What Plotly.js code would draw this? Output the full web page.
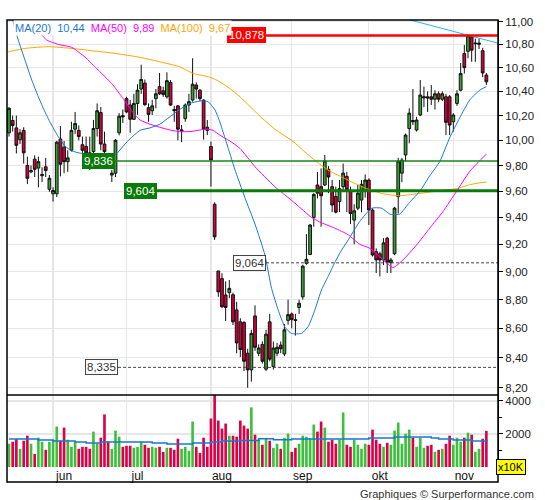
<!DOCTYPE html>
<html><head><meta charset="utf-8">
<script src="https://cdn.plot.ly/plotly-3.0.1.min.js"></script>
<style>html,body{margin:0;padding:0;background:#fff}#chart{width:545px;height:500px}</style>
</head><body><div id="chart"></div>
<script>
// ---------- DATA ----------
const openP = [10.06,10.16,10.10,10.005,10.08,9.80,9.75,9.85,9.78,9.72,
9.79,9.615,9.58,9.58,10.01,9.945,9.83,9.92,10.09,10.08,
9.965,9.95,9.90,9.91,10.095,10.225,9.97,9.88,9.725,9.74,
10.06,10.20,10.34,10.287,10.17,10.30,10.42,10.47,10.265,10.24,
10.34,10.44,10.405,10.355,10.475,10.25,10.28,10.075,10.175,10.287,
10.328,10.453,10.41,10.328,10.105,9.95,9.50,9.005,8.95,8.833,
8.85,8.835,8.728,8.645,8.64,8.43,8.318,8.686,8.43,8.49,
8.323,8.645,8.34,8.43,8.485,8.425,8.655,8.70,8.66,8.745,
8.82,9.06,9.125,9.40,9.648,9.635,9.648,9.77,9.635,9.56,
9.52,9.635,9.715,9.60,9.38,9.47,9.532,9.60,9.686,9.456,
9.145,9.13,9.085,9.245,9.065,9.13,9.558,9.74,9.883,10.095,
10.16,10.083,10.205,10.345,10.355,10.355,10.335,10.38,10.335,10.355,
10.355,10.15,10.30,10.41,10.72,10.74,10.865,10.805,10.80,10.745,
10.537];
const highP = [10.27,10.20,10.20,10.09,10.105,9.87,9.80,9.88,9.87,9.785,
9.86,9.725,9.63,9.995,10.115,9.995,9.92,10.15,10.23,10.12,
10.03,10.03,10.03,10.165,10.30,10.27,10.07,9.90,9.765,10.01,
10.22,10.25,10.355,10.328,10.38,10.46,10.625,10.50,10.30,10.33,
10.42,10.555,10.44,10.56,10.495,10.28,10.287,10.123,10.30,10.38,
10.68,10.475,10.42,10.335,10.164,9.99,9.515,9.005,8.988,8.93,
8.94,8.85,8.785,8.67,8.65,8.46,8.59,8.76,8.49,8.51,
8.59,8.70,8.51,8.50,8.51,8.63,8.80,8.71,8.70,8.80,
9.05,9.275,9.35,9.585,9.75,9.777,9.883,9.795,9.686,9.635,
9.686,9.815,9.75,9.635,9.50,9.648,9.686,9.73,9.70,9.47,
9.17,9.145,9.245,9.255,9.10,9.48,9.86,9.86,10.055,10.26,
10.42,10.19,10.495,10.44,10.40,10.453,10.41,10.40,10.40,10.38,
10.37,10.22,10.41,10.64,10.794,10.88,10.878,10.85,10.85,10.77,
10.555];
const lowP = [10.03,10.07,9.895,9.97,9.815,9.655,9.74,9.71,9.63,9.67,
9.71,9.595,9.52,9.555,9.715,9.74,9.75,9.91,10.05,10.00,
9.90,9.88,9.765,9.88,10.03,9.92,9.83,9.79,9.67,9.71,
10.04,10.14,10.22,10.06,10.165,10.205,10.38,10.28,10.15,10.205,
10.26,10.37,10.355,10.34,10.28,10.15,10.00,9.985,10.15,10.23,
10.315,10.34,10.32,10.005,10.042,9.635,9.232,8.82,8.74,8.65,
8.81,8.623,8.43,8.405,8.31,8.20,8.24,8.446,8.41,8.36,
8.31,8.375,8.32,8.41,8.43,8.41,8.625,8.60,8.55,8.70,
8.80,9.05,9.12,9.33,9.545,9.33,9.64,9.585,9.44,9.43,
9.44,9.61,9.44,9.35,9.20,9.456,9.44,9.55,9.343,9.11,
8.99,8.965,9.048,8.99,8.99,9.12,9.43,9.67,9.83,9.975,
10.123,10.07,10.195,10.27,10.23,10.287,10.25,10.31,10.32,10.042,
10.042,10.07,10.28,10.40,10.55,10.68,10.65,10.65,10.76,10.52,
10.453];
const closeP = [10.26,10.12,9.96,10.06,9.90,9.70,9.76,9.77,9.83,9.73,
9.76,9.70,9.605,9.985,9.81,9.83,9.86,10.08,10.135,10.03,
9.92,9.90,9.84,10.095,10.24,9.97,9.91,9.82,9.74,10.00,
10.195,10.19,10.23,10.17,10.30,10.41,10.50,10.29,10.21,10.28,
10.38,10.38,10.375,10.49,10.287,10.24,10.09,10.083,10.287,10.315,
10.46,10.42,10.34,10.09,10.08,9.843,9.255,8.855,8.75,8.745,
8.88,8.645,8.50,8.455,8.376,8.318,8.565,8.47,8.465,8.376,
8.56,8.39,8.465,8.47,8.46,8.59,8.695,8.66,8.655,8.775,
9.04,9.09,9.343,9.575,9.585,9.565,9.836,9.71,9.494,9.44,
9.62,9.74,9.61,9.43,9.45,9.585,9.653,9.686,9.456,9.121,
9.085,9.085,9.21,9.07,9.085,9.47,9.835,9.843,10.042,10.22,
10.15,10.164,10.37,10.355,10.345,10.335,10.38,10.335,10.38,10.145,
10.123,10.205,10.38,10.55,10.60,10.875,10.75,10.81,10.81,10.555,
10.48];
const volume = [1408,1530,1694,1102,1592,1898,1408,796,1775,1530,
1041,1530,1653,2449,1592,2388,1653,1224,1530,1102,
1224,1224,1102,2143,1408,1775,3184,1530,1102,2204,
1837,1224,1286,1286,1163,1224,1530,1347,1163,1224,
1163,1224,918,1163,1163,1041,1714,1102,1224,980,
2755,1224,857,1775,1224,2938,4400,2815,2326,2632,
1898,1898,1837,2815,2510,2326,3612,1959,1653,1347,
1714,1592,1163,1408,1102,1775,2020,918,1163,1408,
1898,1837,1714,2571,2143,2755,2388,1530,1653,1408,
1653,3306,1347,1224,1653,1347,1102,1408,1347,2265,
1653,1408,1224,1469,1347,2204,2694,1408,2020,2265,
1775,1224,1775,1163,1286,1347,918,1041,1102,1408,
1898,1347,1775,1530,1775,2082,1959,918,1102,1714,
2190];

// moving averages (bar index, price)
const ma20X = [0.5,2.5,4.35,6.2,8.0,9.8,11.6,13.4,15.2,17.1,19.8,24.8,28.9,30.2,31.6,32.9,35.7,38.4,41.1,43.8,46.5,49.2,52,54.2,56.1,57.4,58.8,60.2,61.5,64.2,67,69.7,71.5,73.3,75.1,76.9,79.7,81.5,83.3,85.1,86.9,88.7,90.6,92.4,95.5,98.8,101.5,103.7,106.4,109.1,111.9,114.6,117.3,120,122.7,125.5,128.2,130];
const ma20Y = [11.08,10.84,10.665,10.495,10.355,10.23,10.123,10.03,9.955,9.915,9.895,9.883,9.883,9.922,9.97,10.01,10.08,10.10,10.13,10.19,10.25,10.30,10.32,10.315,10.246,10.15,10.02,9.89,9.77,9.553,9.35,9.12,8.88,8.728,8.61,8.565,8.565,8.614,8.728,8.869,8.965,9.065,9.158,9.232,9.37,9.47,9.47,9.425,9.425,9.515,9.60,9.72,9.83,10.02,10.18,10.33,10.41,10.44];
const ma50X = [7.5,10.3,13.4,17.1,20.7,24.3,28,31.1,33.9,35.7,38.4,41.1,43.8,46.5,49.3,52,53.8,55.6,57.4,60.1,62.9,67,72.4,77.8,82.4,85.1,88.7,92.4,95.5,98.3,101.9,104.6,107.3,111,114.6,118.2,121.9,125.5,130];
const ma50Y = [10.93,10.837,10.80,10.774,10.69,10.58,10.465,10.34,10.22,10.164,10.13,10.105,10.083,10.07,10.07,10.083,10.09,10.08,10.042,9.995,9.935,9.79,9.635,9.51,9.40,9.36,9.32,9.27,9.20,9.17,9.085,9.03,9.085,9.195,9.32,9.445,9.60,9.755,9.89];
const ma100X = [-0.2,4.35,10.7,17.1,22.5,28.9,35.7,41.1,46.5,50.2,54.7,57.4,60.1,62.9,68.9,72.4,77.4,79.7,83.3,86.9,90.6,94.2,97.4,101.9,106.4,111,116.4,121.9,125.5,128.2,130];
const ma100Y = [10.735,10.765,10.78,10.765,10.745,10.722,10.688,10.65,10.607,10.55,10.52,10.48,10.425,10.355,10.18,10.09,9.99,9.93,9.84,9.764,9.71,9.66,9.62,9.58,9.565,9.58,9.60,9.62,9.65,9.665,9.67];
const trendX = [105, 133.2];
const trendY = [11.05, 10.81];
const volMaX = [0,8,12,18,21,25,39,43,50,55,58,63,68,72,77,98,105,115,117,121,126,130.4];
const volMaY = [1694,1632,1571,1510,1449,1510,1449,1387,1449,1510,1571,1612,1714,1653,1694,1754,1816,1754,1694,1632,1571,1571];

const levelValues = [10.878, 9.836, 9.604, 9.064, 8.335];
const levelLabels = ['10,878', '9,836', '9,604', '9,064', '8,335'];
const legendNames = ['MA(20)', 'MA(50)', 'MA(100)'];
const legendValues = ['10,44', '9,89', '9,67'];

const monthStart = [12, 32, 55, 77, 98, 121];
const monthLabels = ['jun', 'jul', 'aug', 'sep', 'okt', 'nov'];
const priceTicks = [8.2,8.4,8.6,8.8,9.0,9.2,9.4,9.6,9.8,10.0,10.2,10.4,10.6,10.8,11.0];
const priceTickText = ['8,20','8,40','8,60','8,80','9,00','9,20','9,40','9,60','9,80','10,00','10,20','10,40','10,60','10,80','11,00'];
const volTicks = [2000, 4000];
const volTickText = ['2000', '4000'];
const volMinorTicks = [1000, 3000];

// ---------- STYLE ----------
const FONT = 'Liberation Sans, Arial, sans-serif';
const C_UP = '#35a035', C_DN = '#d4003a';
const V_UP = '#3cc03c', V_DN = '#de0046';
const C_MA20 = '#1a78d2', C_MA50 = '#ff00ff', C_MA100 = '#ffa500';
const GRID = '#e6e6e6';
const levelStyle = [
  {start: 70.0, color: '#ff0000', width: 2.5, dash: 'solid', bg: '#ff0000', fc: '#ffffff', bc: '#ff0000'},
  {start: 28.9, color: '#138a13', width: 1.5, dash: 'solid', bg: '#0a7a0a', fc: '#ffffff', bc: '#0a7a0a'},
  {start: 40.3, color: '#0a7a0a', width: 3, dash: 'solid', bg: '#0a7a0a', fc: '#ffffff', bc: '#0a7a0a'},
  {start: 70.0, color: '#444444', width: 1, dash: '3px,2px', bg: '#ffffff', fc: '#333333', bc: '#444444'},
  {start: 29.7, color: '#444444', width: 1, dash: '3px,2px', bg: '#ffffff', fc: '#333333', bc: '#444444'}
];
const X_RANGE = [-0.545, 133.17];
const P_RANGE = [8.152, 11.013];
const V_RANGE = [0, 4360];
const PRICE_DOMAIN = [0.161, 1];
const VOL_DOMAIN = [0, 0.161];

const idx = openP.map((_, i) => i);
const volColors = closeP.map((c, i) => (c >= openP[i] ? V_UP : V_DN));

const data = [];
data.push({type: 'bar', x: idx, y: volume, xaxis: 'x', yaxis: 'y2', width: 0.72,
  marker: {color: volColors, line: {width: 0}}, hoverinfo: 'skip'});
data.push({type: 'scatter', mode: 'lines', x: volMaX, y: volMaY, xaxis: 'x', yaxis: 'y2',
  line: {color: '#1478d2', width: 1.5, shape: 'hv'}, hoverinfo: 'skip'});
data.push({type: 'candlestick', x: idx, open: openP, high: highP, low: lowP, close: closeP,
  xaxis: 'x', yaxis: 'y', whiskerwidth: 0, hoverinfo: 'skip',
  increasing: {line: {color: '#111111', width: 1}, fillcolor: C_UP},
  decreasing: {line: {color: '#111111', width: 1}, fillcolor: C_DN}});
[[ma100X, ma100Y, C_MA100], [ma50X, ma50Y, C_MA50], [ma20X, ma20Y, C_MA20]].forEach(([xs, ys, col]) => {
  data.push({type: 'scatter', mode: 'lines', x: xs, y: ys, xaxis: 'x', yaxis: 'y',
    line: {color: col, width: 1, shape: 'spline', smoothing: 0.5}, hoverinfo: 'skip'});
});
data.push({type: 'scatter', mode: 'lines', x: trendX, y: trendY, xaxis: 'x', yaxis: 'y',
  line: {color: '#22b4f0', width: 1}, hoverinfo: 'skip'});
levelValues.forEach((v, k) => {
  const s = levelStyle[k];
  data.push({type: 'scatter', mode: 'lines', x: [s.start, X_RANGE[1]], y: [v, v], xaxis: 'x', yaxis: 'y',
    line: {color: s.color, width: s.width, dash: s.dash}, hoverinfo: 'skip'});
});

const annotations = [];
levelValues.forEach((v, k) => {
  const s = levelStyle[k];
  annotations.push({xref: 'x', yref: 'y', x: s.start, y: Math.log10(v), xanchor: 'right', yanchor: 'middle',
    text: levelLabels[k], showarrow: false, bgcolor: s.bg, bordercolor: s.bc, borderwidth: 1, borderpad: 1,
    font: {family: FONT, size: 11.5, color: s.fc}});
});
const legendColors = [C_MA20, C_MA50, C_MA100];
const sp = '\u00a0\u00a0';
const legendText = legendNames.map((n, k) =>
  '<span style="color:' + legendColors[k] + '">' + n + sp + legendValues[k] + '</span>').join(sp);
annotations.push({xref: 'paper', yref: 'paper', x: 0.012, y: 0.9832, xanchor: 'left', yanchor: 'middle',
  text: legendText, showarrow: false, bgcolor: '#ffffff', borderpad: 1, font: {family: FONT, size: 11}});
annotations.push({xref: 'paper', yref: 'paper', x: 1.0265, y: 0.0, xanchor: 'center', yanchor: 'middle',
  text: 'x10K', showarrow: false, bgcolor: '#ffff00', bordercolor: '#000000', borderwidth: 1, borderpad: 1,
  font: {family: FONT, size: 11, color: '#000'}});
annotations.push({xref: 'paper', yref: 'paper', x: 1.0774, y: -0.0604, xanchor: 'right', yanchor: 'middle',
  text: 'Graphiques © Surperformance.com', showarrow: false, font: {family: FONT, size: 11, color: '#333'}});

const layout = {
  width: 545, height: 500,
  margin: {l: 7, r: 47, t: 20, b: 33, pad: 0},
  paper_bgcolor: '#ffffff', plot_bgcolor: '#ffffff',
  showlegend: false,
  font: {family: FONT, size: 11, color: '#222'},
  boxgap: 0.25, boxgroupgap: 0,
  xaxis: {type: 'linear', range: X_RANGE, anchor: 'y2', tickvals: monthStart, ticktext: monthLabels,
    ticks: '', showgrid: true, gridcolor: GRID, gridwidth: 1.2, zeroline: false, showline: false,
    ticklabelshift: 11, tickfont: {family: FONT, size: 12, color: '#111'},
    rangeslider: {visible: false}, fixedrange: true},
  yaxis: {type: 'log', domain: PRICE_DOMAIN, range: [Math.log10(P_RANGE[0]), Math.log10(P_RANGE[1])],
    side: 'right', anchor: 'x', tickvals: priceTicks, ticktext: priceTickText,
    ticks: 'outside', ticklen: 4, tickcolor: '#000', showline: true, linecolor: '#000', linewidth: 1,
    showgrid: true, gridcolor: GRID, gridwidth: 1.2, zeroline: false,
    tickfont: {family: FONT, size: 11.5, color: '#222'}, fixedrange: true},
  yaxis2: {domain: VOL_DOMAIN, range: V_RANGE, side: 'right', anchor: 'x',
    tickvals: volTicks, ticktext: volTickText, ticks: 'outside', ticklen: 4, tickcolor: '#000',
    showline: true, linecolor: '#000', linewidth: 1, showgrid: true, gridcolor: GRID, gridwidth: 1.2,
    zeroline: false, tickfont: {family: FONT, size: 11.5, color: '#222'},
    minor: {tickvals: volMinorTicks, ticks: 'outside', ticklen: 3, tickcolor: '#000', showgrid: false},
    fixedrange: true},
  shapes: [
    {type: 'rect', xref: 'paper', yref: 'paper', x0: 0, x1: 1, y0: -0.0336, y1: 1,
      line: {color: '#000', width: 1.5}, layer: 'above'},
    {type: 'line', xref: 'paper', yref: 'paper', x0: 0, x1: 1, y0: PRICE_DOMAIN[0], y1: PRICE_DOMAIN[0],
      line: {color: '#000', width: 1.5}, layer: 'above'}
  ],
  annotations: annotations
};

Plotly.newPlot('chart', data, layout, {staticPlot: true, displayModeBar: false});
</script></body></html>
